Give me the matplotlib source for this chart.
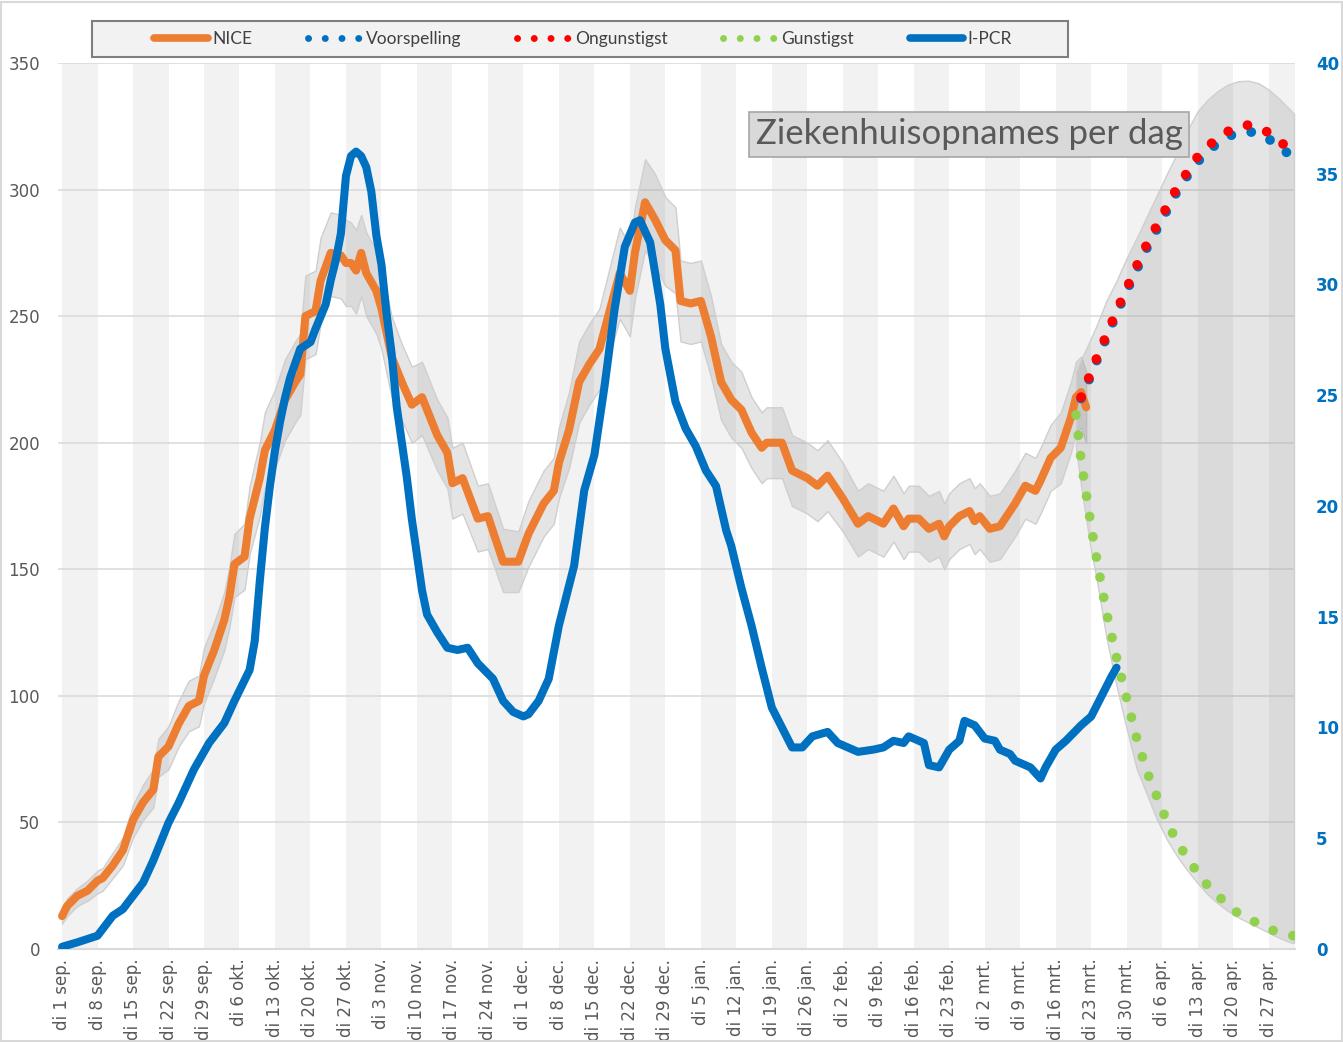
import numpy as np
import matplotlib
matplotlib.use("Agg")
import matplotlib.pyplot as plt
from matplotlib.lines import Line2D
from matplotlib.patches import Rectangle

# x positions are days since di 1 sep. 2020
NICE_DAY = [0, 1, 3, 5, 7, 8, 10, 12, 14, 16, 18, 19, 21, 23, 25, 27, 28, 30, 32, 33,
            34, 36, 37, 39, 40, 42, 44, 46, 47, 48, 50, 51, 53, 55, 56, 57, 58, 59, 60, 62,
            63, 65, 67, 69, 71, 74, 76, 77, 79, 82, 84, 87, 90, 92, 95, 97, 98, 100, 102, 104,
            106, 108, 110, 112, 113, 115, 117, 119, 121, 122, 124, 126, 128, 130, 132, 134, 136, 138, 139, 142,
            144, 147, 149, 151, 154, 157, 159, 162, 164, 166, 167, 169, 171, 173, 174, 175, 177, 179, 180, 181,
            183, 185, 187, 188, 190, 192, 193, 195, 197, 199, 200, 201, 202]
NICE = [13, 17, 21, 23, 27, 28, 33, 39, 51, 58, 63, 76, 80, 89, 96, 98, 108, 118, 130, 139,
        152, 155, 170, 186, 197, 205, 217, 224, 227, 250, 252, 264, 275, 274, 271, 271, 268, 275, 267, 260,
        253, 234, 224, 215, 218, 203, 196, 184, 186, 170, 171, 153, 153, 164, 176, 181, 192, 205, 224, 231,
        237, 252, 267, 260, 275, 295, 288, 280, 276, 256, 255, 256, 242, 224, 217, 213, 204, 198, 200, 200,
        189, 186, 183, 187, 178, 168, 171, 168, 174, 167, 170, 170, 166, 168, 163, 167, 171, 173, 169, 171,
        166, 167, 173, 176, 183, 181, 185, 194, 198, 210, 218, 220, 214]
NICE_LOW = [10, 13, 17, 19, 22, 23, 28, 33, 44, 51, 56, 68, 71, 80, 86, 88, 97, 107, 118, 127,
            139, 142, 156, 171, 182, 190, 201, 208, 211, 233, 235, 247, 258, 257, 254, 254, 251, 258, 250, 243,
            237, 218, 209, 200, 203, 189, 182, 170, 172, 157, 158, 141, 141, 151, 163, 168, 178, 190, 208, 215,
            221, 235, 249, 242, 257, 276, 270, 262, 259, 240, 239, 240, 226, 209, 202, 198, 190, 184, 186, 186,
            175, 172, 169, 173, 165, 155, 158, 155, 161, 154, 157, 157, 153, 155, 150, 154, 158, 160, 156, 158,
            153, 154, 160, 163, 170, 168, 172, 181, 184, 196, 204, 206, 200]
NICE_HIGH = [16, 20, 24, 27, 31, 32, 38, 44, 57, 65, 71, 83, 88, 98, 106, 108, 119, 129, 141, 151,
             164, 168, 183, 200, 212, 221, 233, 240, 243, 266, 268, 281, 291, 290, 288, 287, 284, 290, 283, 276,
             269, 250, 239, 230, 232, 217, 210, 198, 200, 183, 184, 166, 165, 177, 189, 194, 206, 220, 240, 247,
             253, 269, 285, 278, 293, 312, 306, 297, 293, 272, 271, 272, 258, 239, 232, 228, 218, 212, 214, 214,
             203, 200, 197, 201, 192, 181, 184, 181, 187, 180, 183, 183, 179, 181, 176, 180, 184, 186, 182, 184,
             179, 180, 186, 189, 196, 194, 198, 207, 212, 224, 232, 234, 228]

# I-PCR on the right axis
PCR_DAY = [0, 3, 7, 10, 12, 16, 18, 21, 23, 26, 29, 32, 34, 37, 38, 39, 40, 41, 42, 43,
           44, 45, 47, 49, 50, 52, 53, 54, 55, 56, 57, 58, 59, 60, 61, 62, 63, 64, 65, 66,
           67, 68, 69, 70, 71, 72, 74, 76, 78, 80, 82, 85, 87, 89, 91, 92, 94, 96, 98, 101,
           103, 105, 107, 109, 111, 113, 114, 116, 118, 119, 121, 123, 125, 127, 129, 131, 132, 134, 136, 138,
           140, 144, 146, 148, 151, 153, 157, 160, 162, 164, 166, 167, 170, 171, 173, 175, 177, 178, 180, 182,
           184, 185, 187, 188, 191, 193, 194, 196, 198, 201, 203, 205, 207, 208]
PCR = [0.1, 0.3, 0.6, 1.5, 1.8, 3.0, 4.0, 5.7, 6.6, 8.1, 9.3, 10.2, 11.2, 12.6, 13.9, 16.6, 19.0, 20.9, 22.5, 23.8,
       24.9, 25.8, 27.1, 27.4, 28.0, 29.1, 30.2, 31.1, 32.3, 34.9, 35.8, 36.0, 35.8, 35.3, 34.2, 32.2, 30.9, 28.7, 26.9, 24.5,
       22.9, 21.3, 19.4, 17.8, 16.2, 15.1, 14.3, 13.6, 13.5, 13.6, 12.9, 12.2, 11.2, 10.7, 10.5, 10.6, 11.2, 12.2, 14.6, 17.3,
       20.7, 22.3, 25.4, 28.9, 31.7, 32.8, 32.9, 31.9, 29.1, 27.1, 24.7, 23.5, 22.7, 21.6, 20.9, 18.9, 18.2, 16.3, 14.6, 12.7,
       10.9, 9.1, 9.1, 9.6, 9.8, 9.3, 8.9, 9.0, 9.1, 9.4, 9.3, 9.6, 9.3, 8.3, 8.2, 9.0, 9.4, 10.3, 10.1, 9.5,
       9.4, 9.0, 8.8, 8.5, 8.2, 7.7, 8.2, 9.0, 9.4, 10.1, 10.5, 11.4, 12.3, 12.7]

# forecast (left axis)
nan = np.nan
FC_DAY = [200, 201, 202, 203, 204, 206, 208, 210, 212, 214, 216, 218, 220,
          222, 224, 226, 228, 230, 232, 234, 236, 238, 240, 242, 243]
FC_MID = [nan, 217.5, 222, 227, 232, 241.5, 251, 260, 268.5, 277, 284.5, 292, 299.5,
          305.5, 311, 315, 318.5, 321, 322.5, 323, 322, 320, 317, 314, 312]
FC_BAD = [nan, 218, 223, 228, 233, 242.5, 252, 261, 270, 278.5, 286, 293.5, 301,
          307, 313, 317, 320.5, 323, 325, 325.5, 324.5, 322.5, 319.5, 316, 313.5]
FC_GOOD = [211, 193, 180, 167, 155, 133, 115, 99, 83, 70, 60, 50, 42,
           36, 30, 25, 21, 17.5, 14, 12, 10, 8, 6.5, 5.5, 5.2]
FC_HIGH = [228, 233, 237, 241.5, 246, 256, 264, 273, 281, 289.5, 298, 306.5, 314.5,
           323.5, 331, 335.5, 339, 341.5, 342.8, 343, 342, 339.5, 336, 332, 330]
FC_LOW = [198, 183, 170, 157, 147, 123, 104, 87, 71, 61, 51, 43, 36.5,
          31, 26, 21.5, 18, 15, 12.5, 10.5, 8.5, 6.5, 4.5, 2.8, 2.4]

TICK_LABELS = ["di 1 sep.", "di 8 sep.", "di 15 sep.", "di 22 sep.", "di 29 sep.",
               "di 6 okt.", "di 13 okt.", "di 20 okt.", "di 27 okt.", "di 3 nov.",
               "di 10 nov.", "di 17 nov.", "di 24 nov.", "di 1 dec.", "di 8 dec.",
               "di 15 dec.", "di 22 dec.", "di 29 dec.", "di 5 jan.", "di 12 jan.",
               "di 19 jan.", "di 26 jan.", "di 2 feb.", "di 9 feb.", "di 16 feb.",
               "di 23 feb.", "di 2 mrt.", "di 9 mrt.", "di 16 mrt.", "di 23 mrt.",
               "di 30 mrt.", "di 6 apr.", "di 13 apr.", "di 20 apr.", "di 27 apr."]

ORANGE = "#ed7d31"
BLUE = "#0070c0"
RED = "#ff0000"
GREEN = "#92d050"
BAND = (0.34, 0.34, 0.34, 0.15)
NARROW = ["Lato", "DejaVu Sans"]

W, H = 1343, 1043
fig = plt.figure(figsize=(W / 100, H / 100), dpi=100)
ax = fig.add_axes([58 / W, 1 - 949 / H, (1295 - 58) / W, (949 - 63) / H])
ax2 = ax.twinx()

# weekly bands
for k in range(0, len(TICK_LABELS), 2):
    ax.axvspan(7 * k, 7 * k + 7, color="#f2f2f2", lw=0, zorder=0.2)

ax.set_axisbelow(True)
ax.grid(axis="y", color="#d9d9d9", lw=1.1)

ax.fill_between(NICE_DAY, NICE_LOW, NICE_HIGH, facecolor=BAND, edgecolor="#cfcfcf", lw=1, zorder=1)
ax.fill_between(FC_DAY, FC_LOW, FC_HIGH, facecolor=BAND, edgecolor="#cfcfcf", lw=1, zorder=1)
ax.plot(NICE_DAY, NICE, color=ORANGE, lw=5.8, solid_joinstyle="round", solid_capstyle="round", zorder=3)

dots = dict(linestyle=(0, (0.01, 2.1)), dash_capstyle="round", lw=7, zorder=4)
ax.plot(FC_DAY, FC_GOOD, color=GREEN, **dots)
ax.plot(FC_DAY, FC_MID, color=BLUE, **dots)
ax.plot(FC_DAY, FC_BAD, color=RED, **dots)

ax2.plot(PCR_DAY, PCR, color=BLUE, lw=5.8, solid_joinstyle="round", solid_capstyle="round")

ax.set_xlim(-0.8, 243.2)
ax.set_ylim(0, 350)
ax2.set_ylim(0, 40)
ax.set_yticks(range(0, 351, 50))
ax2.set_yticks(range(0, 41, 5))
ax.set_xticks([7 * k for k in range(len(TICK_LABELS))])
ax.set_xticklabels(TICK_LABELS, rotation=90)

ax.tick_params(axis="x", length=0, pad=7, labelsize=12, labelcolor="#595959")
ax.tick_params(axis="y", length=0, pad=13, labelsize=12, labelcolor="#595959")
ax2.tick_params(axis="y", length=0, pad=15, labelsize=12, labelcolor=BLUE)
for lab in ax2.get_yticklabels():
    lab.set_fontweight("bold")

for a in (ax, ax2):
    for s in ("top", "left", "right", "bottom"):
        a.spines[s].set_visible(False)
ax.spines["bottom"].set_visible(True)
ax.spines["bottom"].set_color("#d9d9d9")
ax.spines["bottom"].set_linewidth(1.5)

ax2.text(969 / W, 1 - 134.5 / H, "Ziekenhuisopnames per dag", transform=fig.transFigure,
         ha="center", va="center", fontsize=25, color="#595959", family=NARROW, zorder=6,
         bbox=dict(boxstyle="square,pad=0.2", facecolor="#d9d9d9", edgecolor="#a6a6a6", lw=1.2))

# legend frame and entries
fig.patches.append(Rectangle((92 / W, 1 - 57 / H), (1068 - 92) / W, 36 / H, transform=fig.transFigure,
                             facecolor="#f2f2f2", edgecolor="#7f7f7f", lw=1.5, zorder=1))
leg_dots = dict(linestyle=(0, (0.01, 2.4)), dash_capstyle="round", lw=5)
handles = [
    Line2D([], [], color=ORANGE, lw=5.5, solid_capstyle="round"),
    Line2D([], [], color=BLUE, **leg_dots),
    Line2D([], [], color=RED, **leg_dots),
    Line2D([], [], color=GREEN, **leg_dots),
    Line2D([], [], color=BLUE, lw=5.5, solid_capstyle="round"),
]
fig.legend(handles, ["NICE", "Voorspelling", "Ongunstigst", "Gunstigst", "I-PCR"],
           loc="center", bbox_to_anchor=(583 / W, 1 - 39 / H), ncol=5, frameon=False,
           handlelength=3.1, handletextpad=0.25, columnspacing=3.2,
           prop={"family": NARROW, "size": 12.5}, labelcolor="#404040")

fig.patches.append(Rectangle((0.001, 0.002), 0.998, 0.996, transform=fig.transFigure,
                             fill=False, edgecolor="#d9d9d9", lw=1.5, zorder=0))

fig.savefig("out.png", dpi=100)
